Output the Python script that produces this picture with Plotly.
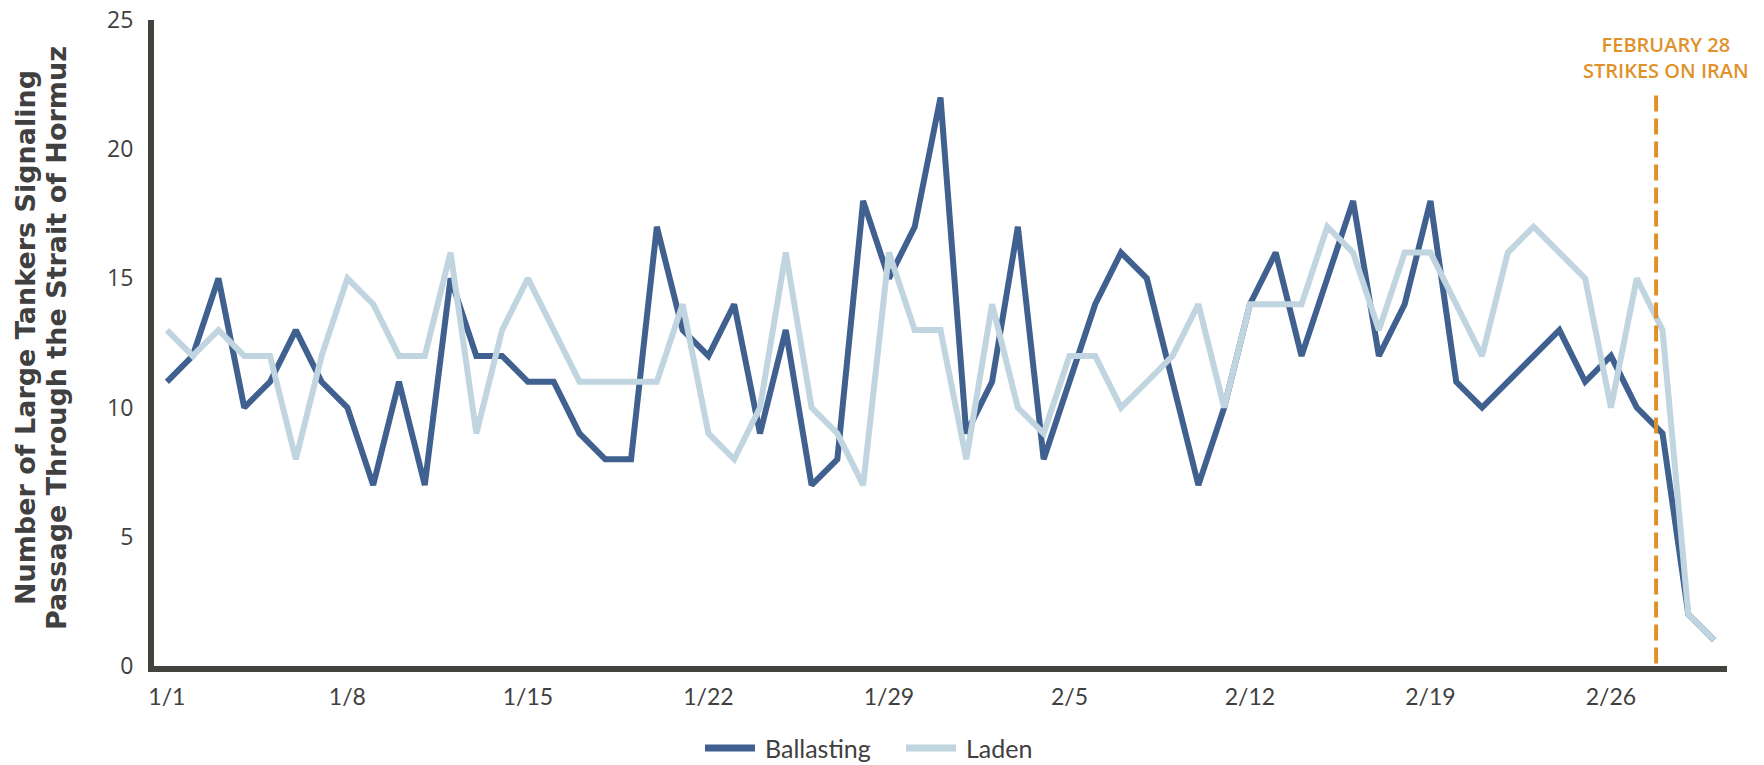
import pandas as pd
import plotly.graph_objects as go

# Daily counts, 1 Jan - 2 Mar
dates = pd.date_range("2026-01-01", "2026-03-02", freq="D")

ballasting = [
    11, 12, 15, 10, 11, 13, 11, 10, 7, 11, 7, 15, 12, 12, 11,
    11, 9, 8, 8, 17, 13, 12, 14, 9, 13, 7, 8, 18, 15, 17,
    22, 9, 11, 17, 8, 11, 14, 16, 15, 11, 7, 10, 14, 16, 12,
    15, 18, 12, 14, 18, 11, 10, 11, 12, 13, 11, 12, 10, 9, 2, 1,
]
laden = [
    13, 12, 13, 12, 12, 8, 12, 15, 14, 12, 12, 16, 9, 13, 15,
    13, 11, 11, 11, 11, 14, 9, 8, 10, 16, 10, 9, 7, 16, 13,
    13, 8, 14, 10, 9, 12, 12, 10, 11, 12, 14, 10, 14, 14, 14,
    17, 16, 13, 16, 16, 14, 12, 16, 17, 16, 15, 10, 15, 13, 2, 1,
]

tick_dates = pd.date_range("2026-01-01", "2026-02-26", freq="7D")
tick_labels = [f"{d.month}/{d.day}" for d in tick_dates]
y_ticks = [0, 5, 10, 15, 20, 25]

event_x = pd.Timestamp("2026-02-27 18:00")
event_label = "FEBRUARY 28<br>STRIKES ON IRAN"
y_title_lines = ["Number of Large Tankers Signaling", "Passage Through the Strait of Hormuz"]

BLUE = "#40608F"
LIGHT = "#C0D5E0"
ORANGE = "#DF922A"
AXIS = "#44423D"
TEXT = "#404040"
FONT = "Lato, 'Noto Sans', sans-serif"
WIDE = "'Open Sans', 'Noto Sans', sans-serif"
TITLE_FONT = "'DejaVu Sans', 'Open Sans', sans-serif"

W, H = 1764, 765
L, R, T, B = 154, 37, 20, 99
PW, PH = W - L - R, H - T - B


def px_x(px):
    """Horizontal pixel position -> paper coordinate."""
    return (px - L) / PW


def px_y(py):
    """Vertical pixel position -> paper coordinate."""
    return (H - B - py) / PH


fig = go.Figure()
series = [("Ballasting", ballasting, BLUE), ("Laden", laden, LIGHT)]
for name, values, color in series:
    fig.add_trace(go.Scatter(x=dates, y=values, mode="lines", name=name,
                             line=dict(color=color, width=6, shape="linear"),
                             showlegend=False))

# Event marker
fig.add_shape(type="line", xref="x", yref="y", x0=event_x, x1=event_x, y0=0.1, y1=22.3,
              line=dict(color=ORANGE, width=4, dash="16px,7px"))
fig.add_annotation(x=event_x, y=22.3, xref="x", yref="y", text=event_label,
                   showarrow=False, xanchor="center", yanchor="bottom",
                   xshift=10, yshift=4,
                   font=dict(family=WIDE, size=20, color=ORANGE, weight=600),
                   align="center")

# Two-line y-axis title
for line_text, cx in zip(y_title_lines, [25, 56]):
    fig.add_annotation(x=px_x(cx), y=px_y(338), xref="paper", yref="paper",
                       text=line_text, textangle=-90, showarrow=False,
                       xanchor="center", yanchor="middle",
                       font=dict(family=TITLE_FONT, size=27, color=TEXT, weight="bold"))

# Legend below the axis
legend_y = px_y(748)
legend_items = [("Ballasting", BLUE, 702, 758, 763), ("Laden", LIGHT, 903, 959, 964)]
for name, color, x0, x1, tx in legend_items:
    fig.add_shape(type="line", xref="paper", yref="paper",
                  x0=px_x(x0 + 3), x1=px_x(x1 - 3), y0=legend_y, y1=legend_y,
                  line=dict(color=color, width=7))
    fig.add_annotation(x=px_x(tx), y=legend_y, xref="paper", yref="paper",
                       text=name, showarrow=False, xanchor="left", yanchor="middle",
                       font=dict(family=FONT, size=25, color=TEXT))

fig.update_layout(
    width=W, height=H,
    margin=dict(l=L, r=R, t=T, b=B),
    paper_bgcolor="white", plot_bgcolor="white",
    font=dict(family=FONT, color=TEXT),
    showlegend=False,
    xaxis=dict(
        type="date", automargin=False,
        range=[pd.Timestamp("2025-12-31 12:00"), pd.Timestamp("2026-03-02 12:00")],
        tickmode="array", tickvals=tick_dates, ticktext=tick_labels,
        showgrid=False, zeroline=False, showline=True, linecolor=AXIS, linewidth=6,
        ticks="", tickfont=dict(size=23, color=TEXT), ticklabelstandoff=5,
    ),
    yaxis=dict(
        range=[0, 25], tickmode="array", tickvals=y_ticks, automargin=False,
        showgrid=False, zeroline=False, showline=True, linecolor=AXIS, linewidth=6,
        ticks="", tickfont=dict(family=WIDE, size=23, color=TEXT), ticklabelstandoff=10,
    ),
)

fig.write_html("out.html")
